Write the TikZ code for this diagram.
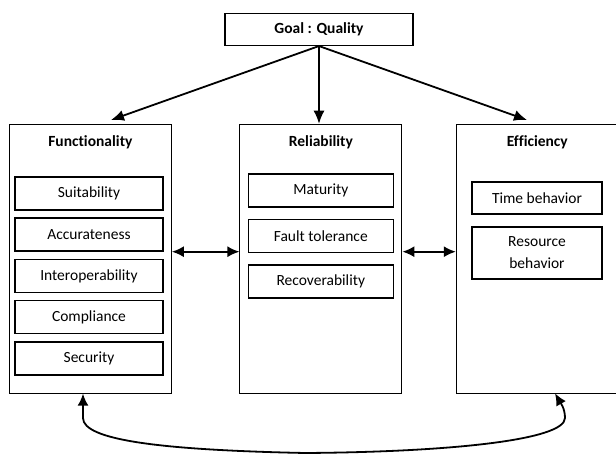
\documentclass[tikz,border=0pt]{standalone}
\usepackage{fontspec}
\setmainfont{Carlito}[Ligatures=NoCommon]
\usepackage{tikz}
\usetikzlibrary{arrows.meta,calc,positioning}

\begin{document}
\begin{tikzpicture}[x=1pt, y=-1pt,
    every node/.style={font=\fontsize{15.5}{18.5}\selectfont, align=center, inner sep=0pt},
    outerbox/.style={draw, line width=0.9pt, minimum width=162pt, minimum height=269pt},
    subbox/.style={draw, line width=1.5pt, minimum height=33pt},
    titletext/.style={font=\fontsize{15.5}{18.5}\selectfont\bfseries},
    link/.style={line width=1.8pt, -{Latex[length=13pt,width=11pt]}},
    bilink/.style={line width=1.8pt, {Latex[length=12pt,width=11pt]}-{Latex[length=12pt,width=11pt]}}]
    \useasboundingbox (0,0) rectangle (616,454);

    % Goal on top
    \node[draw, line width=1.1pt, minimum width=188pt, minimum height=32pt, font=\fontsize{15.5}{18.5}\selectfont\bfseries] (goal) at (319,29.5) {Goal : Quality};

    % Three characteristics
    \node[outerbox] (func) at (90.4,258.7) {};
    \node[outerbox] (rel) at (320.9,258.7) {};
    \node[outerbox] (eff) at (537.3,258.7) {};
    \node[titletext] (functitle) at (90.4,142) {Functionality};
    \node[titletext] (reltitle) at (320.9,142) {Reliability};
    \node[titletext] (efftitle) at (537.3,142) {Efficiency};

    % Sub-characteristics
    \foreach \name [count=\i from 0] in {Suitability,Accurateness,Interoperability,Compliance,Security}
        \node[subbox, minimum width=148pt] (fsub\i) at (89,193.3+41.3*\i) {\name};
    \foreach \name [count=\i from 0] in {Maturity,Fault tolerance,Recoverability}
        \node[subbox, minimum width=145pt] (rsub\i) at (320.8,190.3+45.7*\i) {\name};
    \node[subbox, minimum width=130pt, minimum height=32pt] (esub0) at (537,198) {Time behavior};
    \node[subbox, minimum width=130pt, minimum height=52pt, font=\fontsize{15.5}{22}\selectfont] (esub1) at (537,253) {Resource\\behavior};

    % Arrows from the goal
    \coordinate (ftip) at (111,120);
    \coordinate (etip) at (527,120);
    \draw[link] (goal.south) -- (ftip);
    \draw[link] (goal.south) -- (goal.south |- rel.north);
    \draw[link] (goal.south) -- (etip);

    % Links between the boxes
    \coordinate (midrow) at (0,251.7);
    \draw[bilink] (func.east |- midrow) -- (rel.west |- midrow);
    \draw[bilink] (rel.east |- midrow) -- (eff.west |- midrow);

    % Loop under the boxes
    \coordinate (lfoot) at (83,418);
    \coordinate (rfoot) at (565,418);
    \coordinate (rtip) at (555,393.3);
    \draw[bilink] (lfoot |- func.south) -- (lfoot)
        .. controls (83,440) and (160,450) .. (305,453)
        .. controls (450,452) and (565,440) .. (rfoot)
        .. controls (565,408) and (560,402) .. (rtip);
\end{tikzpicture}
\end{document}
